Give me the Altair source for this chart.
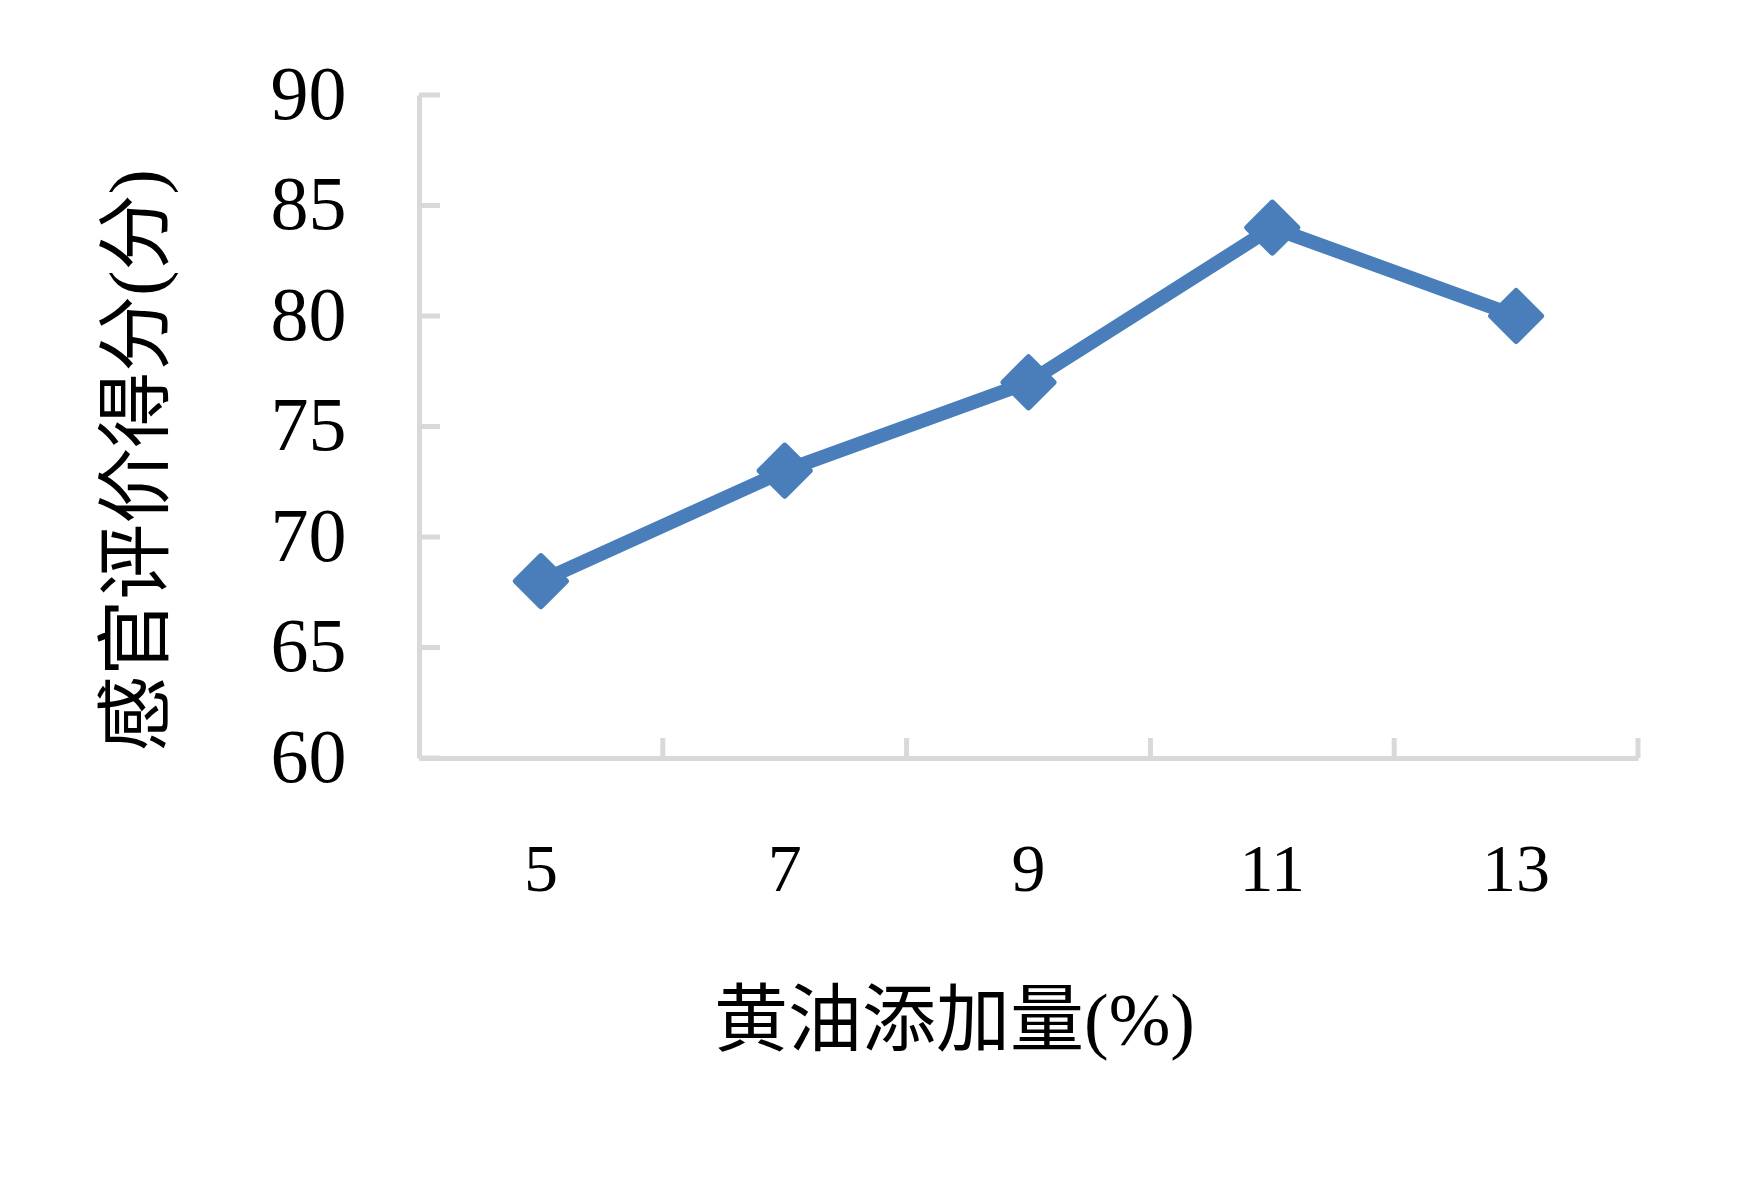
import altair as alt
import pandas as pd

# Data
amounts = ["5", "7", "9", "11", "13"]
scores = [68, 73, 77, 84, 80]
y_ticks = [60, 65, 70, 75, 80, 85, 90]

x_title = "黄油添加量(%)"
y_title = "感官评价得分(分)"

LINE_COLOR = "#4A7EBB"
AXIS_COLOR = "#D9D9D9"
W, H = 1219, 663

df = pd.DataFrame({"amount": amounts, "score": scores})
df_yt = pd.DataFrame({"score": y_ticks})
df_xt = pd.DataFrame({"amount": amounts})

x_scale = alt.Scale(type="band", domain=amounts, paddingInner=0, paddingOuter=0)
y_scale = alt.Scale(domain=[60, 90], nice=False, zero=False)

x_axis = alt.Axis(
    title=x_title,
    labelFont="Liberation Serif",
    labelFontSize=68,
    labelColor="black",
    labelPadding=78,
    labelAngle=0,
    ticks=False,
    tickSize=0,
    domainColor=AXIS_COLOR,
    domainWidth=5,
    grid=False,
    titleFont="Liberation Serif, Noto Sans CJK SC",
    titleFontSize=74,
    titleFontWeight="normal",
    titleColor="black",
    titleAlign="center",
    titleBaseline="alphabetic",
    titleX=535,
    titleY=286,
)

y_axis = alt.Axis(
    title=y_title,
    values=y_ticks,
    labelFont="Liberation Serif",
    labelFontSize=76,
    labelColor="black",
    labelPadding=73,
    ticks=False,
    tickSize=0,
    domainColor=AXIS_COLOR,
    domainWidth=5,
    grid=False,
    titleFont="Liberation Serif, Noto Sans CJK SC",
    titleFontSize=76,
    titleFontWeight="normal",
    titleColor="black",
    titleAngle=270,
    titleAlign="center",
    titleBaseline="alphabetic",
    titleX=-258,
    titleY=365,
)


def X(band_pos):
    return alt.X("amount:O", scale=x_scale, axis=x_axis, sort=amounts, bandPosition=band_pos)


Y = alt.Y("score:Q", scale=y_scale, axis=y_axis)

y_tick_rules = alt.Chart(df_yt).mark_rule(color=AXIS_COLOR, strokeWidth=5).encode(
    y=Y,
    x=alt.value(0),
    x2=alt.value(21),
)

x_tick_rules = alt.Chart(df_xt).mark_rule(color=AXIS_COLOR, strokeWidth=5).encode(
    x=X(1),
    y=alt.value(H),
    y2=alt.value(H - 20),
)

line = alt.Chart(df).mark_line(color=LINE_COLOR, strokeWidth=14).encode(
    x=X(0.5), y=Y
)

points = alt.Chart(df).mark_point(
    shape="diamond",
    size=2500,
    filled=True,
    opacity=1,
    color=LINE_COLOR,
    stroke=LINE_COLOR,
    strokeWidth=6,
    strokeJoin="round",
).encode(x=X(0.5), y=Y)

chart = (
    alt.layer(y_tick_rules, x_tick_rules, line, points)
    .properties(
        width=W,
        height=H,
        autosize=alt.AutoSizeParams(type="none"),
        padding={"left": 411, "top": 87, "right": 90, "bottom": 330},
        background="white",
    )
    .configure_view(stroke=None)
)

chart.save("out.html", embed_options={"renderer": "svg", "actions": False})
